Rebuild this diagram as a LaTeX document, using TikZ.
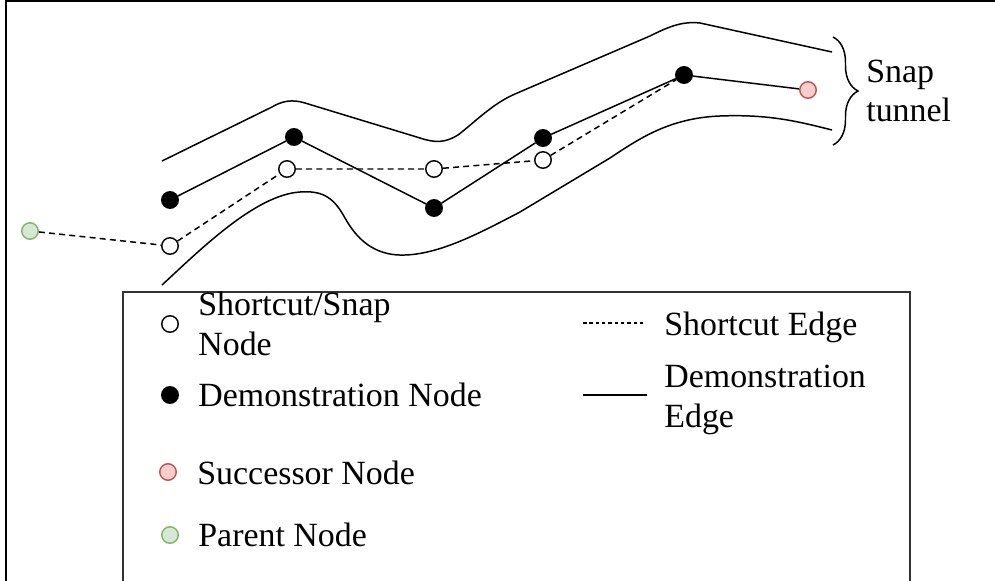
\documentclass[tikz,border=0pt]{standalone}
\usepackage{fontspec}
\setmainfont{Liberation Serif}
\usetikzlibrary{decorations.pathreplacing}
\definecolor{pfill}{HTML}{D5E8D4}
\definecolor{pline}{HTML}{82B366}
\definecolor{sfill}{HTML}{F8CECC}
\definecolor{sline}{HTML}{B85450}
\begin{document}
\begin{tikzpicture}[x=0.02cm,y=-0.02cm,
  every node/.style={font=\fontsize{19.3}{23}\selectfont},
  dot/.style={circle,draw,line width=0.8pt,minimum size=0.33cm,inner sep=0pt},
  demo/.style={dot,fill=black},
  snapnode/.style={dot,fill=white},
  parentnode/.style={dot,draw=pline,fill=pfill},
  succnode/.style={dot,draw=sline,fill=sfill},
  demoedge/.style={line width=0.85pt},
  shortedge/.style={line width=0.85pt,dash pattern=on 3.4pt off 2.4pt},
  tunnelline/.style={line width=0.85pt,line join=round},
  label/.style={anchor=base west,inner sep=0pt}]
\useasboundingbox (0,0) rectangle (995,581);
% outer frame (top and left)
\draw[line width=1.1pt] (6,581) -- (6,1) -- (995,1);
% tunnel
\draw[tunnelline] (162,161) -- (272,107) .. controls (282,101) and (292,99) .. (305,103)
  -- (420,138) .. controls (435,143) and (445,143) .. (458,135)
  .. controls (475,122) and (492,104) .. (515,94) -- (650,36)
  .. controls (668,27) and (682,21) .. (700,23) -- (832,52);
\draw[tunnelline] (162,285) .. controls (200,250) and (255,195) .. (300,192)
  .. controls (325,190) and (335,200) .. (345,218)
  .. controls (360,245) and (380,256) .. (405,255)
  .. controls (440,254) and (480,233) .. (520,212) -- (610,158)
  .. controls (640,138) and (670,118) .. (720,116)
  .. controls (770,114) and (800,122) .. (832,130);
% nodes
\node[parentnode] (p) at (30,231) {};
\node[snapnode] (s1) at (170,246) {};
\node[snapnode] (s2) at (287,169) {};
\node[snapnode] (s3) at (434,169) {};
\node[snapnode] (s4) at (543,160) {};
\node[demo] (d1) at (170,200) {};
\node[demo] (d2) at (294,137) {};
\node[demo] (d3) at (434,208) {};
\node[demo] (d4) at (543,138) {};
\node[demo] (d5) at (684,75) {};
\node[succnode] (sc) at (808,90) {};
% edges
\draw[demoedge] (d1) -- (d2) -- (d3) -- (d4) -- (d5) -- (sc);
\draw[shortedge] (p) -- (s1) -- (s2) -- (s3) -- (s4) -- (d5);
% brace
\draw[line width=0.85pt,decorate,decoration={brace,amplitude=0.5cm}] (833,37) -- (833,145);
\node[label] (t1) at (866,83) {Snap};
\node[label] (t2) at (866,122) {tunnel};
% legend box
\draw[line width=0.7pt,black!80] (123,581) -- (123,292) -- (910,292) -- (910,581);
\node[snapnode] (ls) at (170,324) {};
\node[demo] (ld) at (170,395) {};
\node[succnode] (lsc) at (168,472) {};
\node[parentnode] (lp) at (170,535) {};
\node[label] (lt1a) at (198,316) {Shortcut/Snap};
\node[label] (lt1b) at (198,356) {Node};
\node[label] (lt2) at (198,406) {Demonstration Node};
\node[label] (lt3) at (197,484) {Successor Node};
\node[label] (lt4) at (198,546) {Parent Node};
\coordinate (la1) at (583,323);
\coordinate (la2) at (646,323);
\coordinate (lb1) at (583,395);
\coordinate (lb2) at (647,395);
\draw[line width=0.6pt,dash pattern=on 2pt off 1.6pt] (la1) -- (la2);
\draw[line width=0.85pt] (lb1) -- (lb2);
\node[label] (lt5) at (664,336) {Shortcut Edge};
\node[label] (lt6a) at (664,387) {Demonstration};
\node[label] (lt6b) at (664,427) {Edge};
\end{tikzpicture}
\end{document}
